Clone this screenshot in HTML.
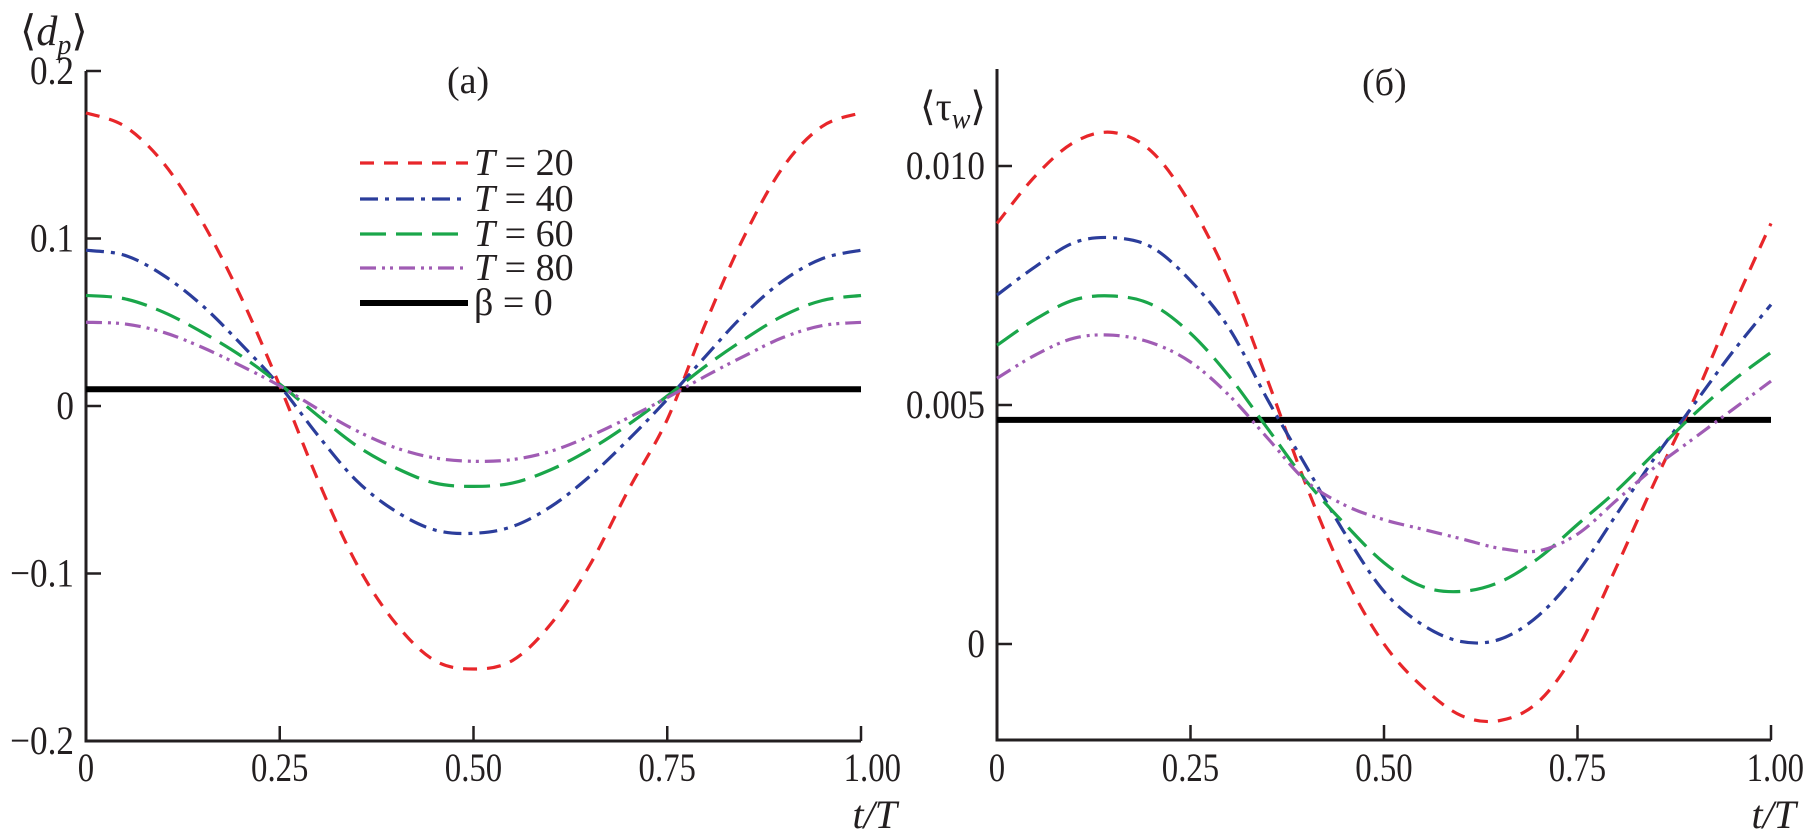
<!DOCTYPE html>
<html><head><meta charset="utf-8"><style>
html,body{margin:0;padding:0;background:#fff;}
svg{display:block;font-family:"Liberation Serif","DejaVu Serif",serif;}
text{font-family:"Liberation Serif","DejaVu Serif",serif;fill:#231f20;}
</style></head><body>
<svg id="chart" width="1806" height="835" viewBox="0 0 1806 835" font-family="Liberation Serif, DejaVu Serif, serif"></svg>
<script>
const tValues=[0,0.05,0.1,0.15,0.2,0.25,0.3,0.35,0.4,0.45,0.5,0.55,0.6,0.65,0.7,0.75,0.8,0.85,0.9,0.95,1.0];
const seriesNames=["T = 20","T = 40","T = 60","T = 80"];
const dpT20=[0.175,0.167,0.145,0.11,0.065,0.012,-0.045,-0.095,-0.13,-0.152,-0.157,-0.152,-0.13,-0.095,-0.05,-0.008,0.05,0.102,0.143,0.167,0.175];
const dpT40=[0.093,0.09,0.078,0.06,0.037,0.012,-0.018,-0.045,-0.063,-0.074,-0.076,-0.072,-0.06,-0.042,-0.02,0.004,0.03,0.055,0.075,0.088,0.093];
const dpT60=[0.066,0.064,0.056,0.044,0.03,0.013,-0.006,-0.024,-0.037,-0.046,-0.048,-0.046,-0.038,-0.026,-0.011,0.006,0.024,0.04,0.054,0.063,0.066];
const dpT80=[0.05,0.049,0.044,0.035,0.024,0.012,-0.002,-0.015,-0.025,-0.031,-0.033,-0.032,-0.027,-0.018,-0.007,0.005,0.018,0.03,0.041,0.048,0.05];
const dpBeta0=0.01;
const twT20=[8.8,9.8,10.5,10.7,10.3,9.2,7.6,5.5,3.3,1.4,0.0,-0.9,-1.5,-1.6,-1.2,-0.1,1.6,3.4,5.1,7.0,8.8];
const twT40=[7.3,7.9,8.4,8.5,8.3,7.6,6.6,5.1,3.7,2.3,1.1,0.4,0.05,0.1,0.6,1.5,2.7,3.9,5.0,6.1,7.1];
const twT60=[6.25,6.8,7.2,7.28,7.1,6.5,5.6,4.5,3.4,2.5,1.7,1.2,1.1,1.3,1.8,2.5,3.2,4.0,4.8,5.5,6.1];
const twT80=[5.56,6.05,6.4,6.46,6.3,5.9,5.2,4.3,3.4,2.9,2.6,2.4,2.2,2.0,1.95,2.3,3.0,3.7,4.3,4.9,5.5];
const twBeta0=4.69;
const xTicks=[0,0.25,0.5,0.75,1.0];
const xTickLabels=["0","0.25","0.50","0.75","1.00"];
const dpTicks=[0.2,0.1,0,-0.1,-0.2];
const dpTickLabels=["0.2","0.1","0","\u22120.1","\u22120.2"];
const twTicks=[10,5,0];
const twTickLabels=["0.010","0.005","0"];

const NS="http://www.w3.org/2000/svg";
const svg=document.getElementById('chart');
const FF='"Liberation Serif","DejaVu Serif",serif';
function mk(tag,attrs,parent){const e=document.createElementNS(NS,tag);for(const k in attrs)e.setAttribute(k,attrs[k]);if(tag==='text')e.style.fontFamily=FF;(parent||svg).appendChild(e);return e;}
const colors=["#e8262a","#2b3d9b","#1aa64a","#a05cb4"];
const dashes=["14 10","18 7 4 7","26 10","16 6 3 5 3 6"];

const L={x0:86,x1:861,yTop:71,yBot:741,vTop:0.2,vBot:-0.2};
const R={x0:997,x1:1771,yTop:69,yBot:740,v0y:644,pxPerUnit:47.8};
const lx=t=>L.x0+t*(L.x1-L.x0);
const ly=v=>L.yTop+(L.vTop-v)/(L.vTop-L.vBot)*(L.yBot-L.yTop);
const rx=t=>R.x0+t*(R.x1-R.x0);
const ry=v=>R.v0y-v*R.pxPerUnit;

function smoothPath(xs,ys){
  let d=`M${xs[0]},${ys[0]}`;
  for(let i=0;i<xs.length-1;i++){
    const p0=[xs[Math.max(i-1,0)],ys[Math.max(i-1,0)]],p1=[xs[i],ys[i]],p2=[xs[i+1],ys[i+1]],p3=[xs[Math.min(i+2,xs.length-1)],ys[Math.min(i+2,xs.length-1)]];
    const c1=[p1[0]+(p2[0]-p0[0])/6,p1[1]+(p2[1]-p0[1])/6],c2=[p2[0]-(p3[0]-p1[0])/6,p2[1]-(p3[1]-p1[1])/6];
    d+=` C${c1[0].toFixed(1)},${c1[1].toFixed(1)} ${c2[0].toFixed(1)},${c2[1].toFixed(1)} ${p2[0].toFixed(1)},${p2[1].toFixed(1)}`;
  }
  return d;
}

function panel(fx,fy,series,beta,yTicks,yLabels,box,prefix){
  const g=mk('g',{});
  
  
  const yax=mk('line',{x1:box.x0,y1:box.yTop,x2:box.x0,y2:box.yBot,stroke:'#231f20','stroke-width':3},g);
  
  
  const xax=mk('line',{x1:box.x0-1.5,y1:box.yBot,x2:box.x1,y2:box.yBot,stroke:'#231f20','stroke-width':3},g);
  
  
  xTicks.forEach((t,i)=>{
    const x=fx(t);
    if(i>0){const tk=mk('line',{x1:x,y1:box.yBot,x2:x,y2:box.yBot-15,stroke:'#231f20','stroke-width':2.5},g);
    
    }
    const ax=i==4?Math.min(x+40,1804):x;
    const tx=mk('text',{x:ax,y:781,'font-size':40,'text-anchor':i==4?'end':'middle',transform:`translate(${ax},0) scale(0.82,1) translate(${-ax},0)`},g);
    tx.textContent=xTickLabels[i];
    
    
  });
  yTicks.forEach((v,i)=>{
    const y=fy(v);
    const tk=mk('line',{x1:box.x0,y1:y,x2:box.x0+15,y2:y,stroke:'#231f20','stroke-width':2.5},g);
    
    
    const ax=box.x0-12;
    const tx=mk('text',{x:ax,y:y+13,'font-size':40,'text-anchor':'end',transform:`translate(${ax},0) scale(0.88,1) translate(${-ax},0)`},g);
    tx.textContent=yLabels[i];
    
    
  });
  const bl=mk('line',{x1:box.x0,y1:fy(beta),x2:box.x1,y2:fy(beta),stroke:'#000','stroke-width':6},g);
  
  
  series.forEach((s,k)=>{
    const p=mk('path',{d:smoothPath(tValues.map(fx),s.map(fy)),fill:'none',stroke:colors[k],'stroke-width':3.2,'stroke-dasharray':dashes[k]},g);
    
    
  });
  const xl=mk('text',{x:Math.min(box.x1+36,1796),y:828,'font-size':40,'font-style':'italic','text-anchor':'end'},g);
  xl.textContent='t/T';
  
  
}
panel(lx,ly,[dpT20,dpT40,dpT60,dpT80],dpBeta0,dpTicks,dpTickLabels,L,'left');
panel(rx,ry,[twT20,twT40,twT60,twT80],twBeta0,twTicks,twTickLabels,R,'right');

function label(x,y,html,name,size){
  const t=mk('text',{x:x,y:y,'font-size':size||36});
  t.innerHTML=html;
  
  
  return t;
}
label(20,45,'\u27E8<tspan font-style="italic">d</tspan><tspan font-style="italic" font-size="28" dy="9">p</tspan><tspan dy="-9">\u27E9</tspan>','left-y-axis-title',42);
label(920,120,'\u27E8\u03C4<tspan font-style="italic" font-size="28" dy="8">w</tspan><tspan dy="-8">\u27E9</tspan>','right-y-axis-title',40);
label(447,93,'(a)','left-panel-title',38);
label(1362,95,'(б)','right-panel-title',38);

const legYs=[163,199,234,268,303];
const legLabels=seriesNames.concat(['\u03B2 = 0']);
legLabels.forEach((lab,k)=>{
  const g=mk('g',{});
  
  
  const ln=mk('line',{x1:360,y1:legYs[k],x2:468,y2:legYs[k],stroke:k<4?colors[k]:'#000','stroke-width':k<4?3.2:6,'stroke-dasharray':k<4?dashes[k]:'none'},g);
  
  
  const t=mk('text',{x:474,y:legYs[k]+12,'font-size':38},g);
  if(k<4){t.innerHTML='<tspan font-style="italic">T</tspan> = '+lab.split('= ')[1];}else{t.textContent=lab;}
  
  
});
</script>
</body></html>
